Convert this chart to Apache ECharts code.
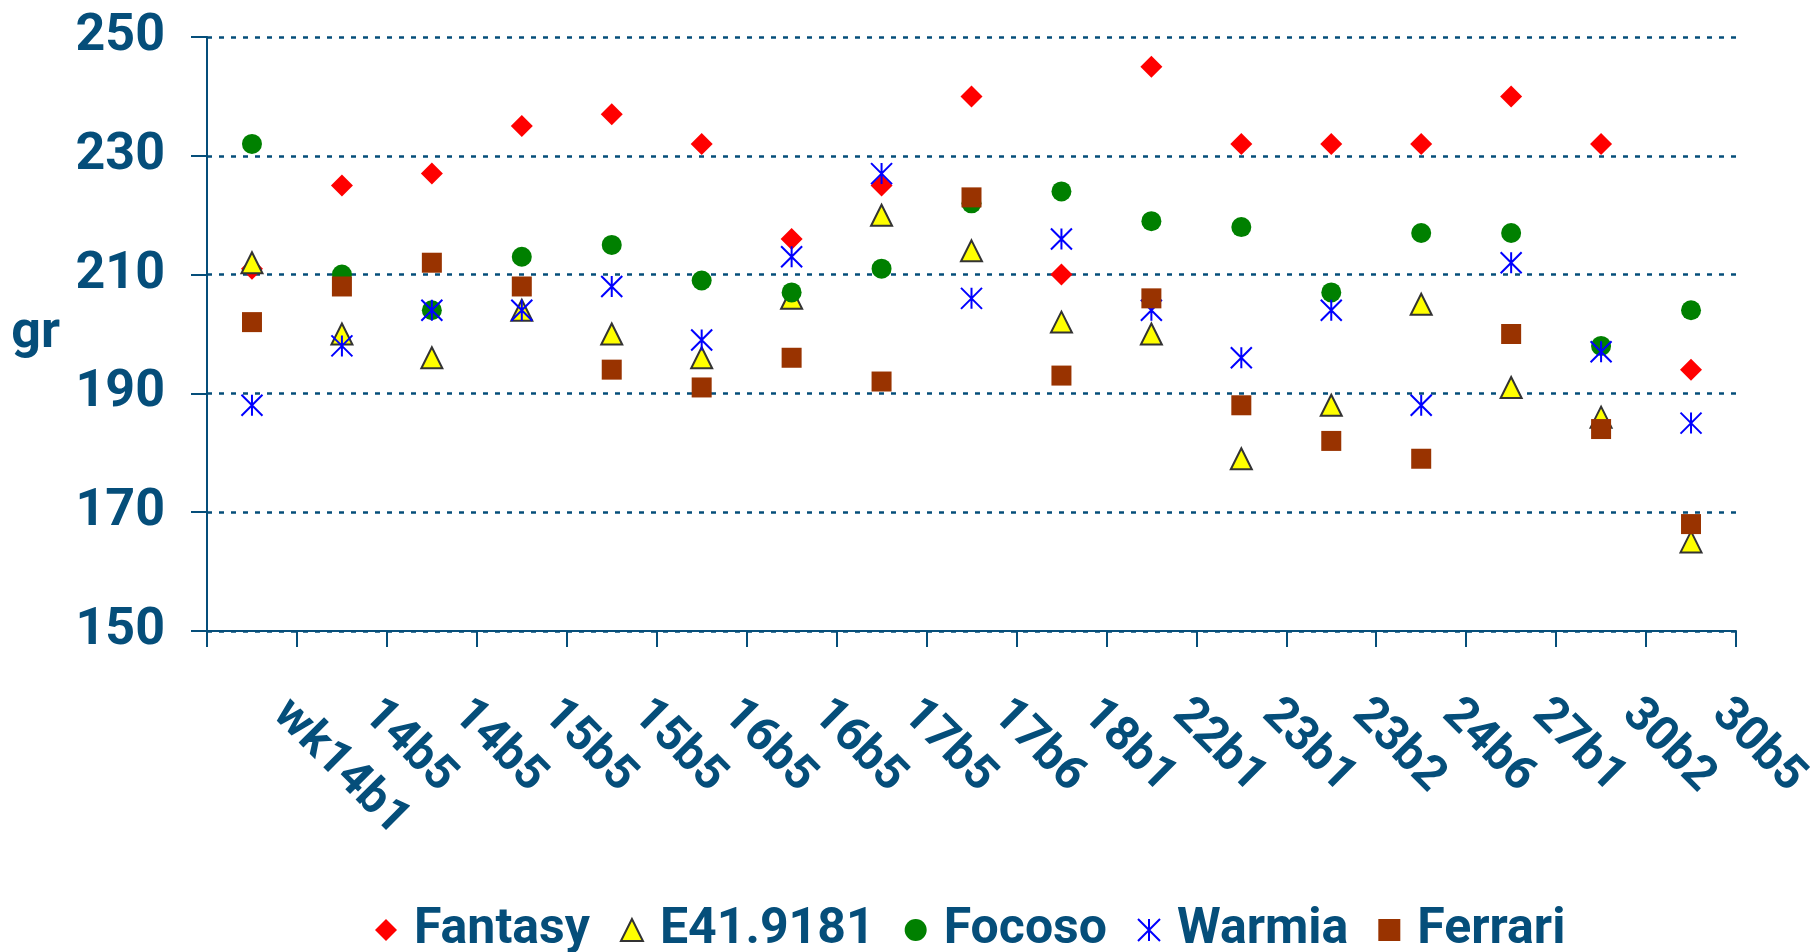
<!DOCTYPE html>
<html>
<head>
<meta charset="utf-8">
<title>gr</title>
<script src="https://cdn.jsdelivr.net/npm/echarts@6/dist/echarts.min.js"></script>
<style>
  html, body { margin: 0; padding: 0; background: #fff; }
  #chart { width: 1820px; height: 952px; }
</style>
</head>
<body>
<div id="chart"></div>
<script>
// categories (week + batch), duplicates are intentional
var categories = ['wk14b1', '14b5', '14b5', '15b5', '15b5', '16b5', '16b5', '17b5', '17b6',
  '18b1', '22b1', '23b1', '23b2', '24b6', '27b1', '30b2', '30b5'];

// weights in gr
var fantasy  = [211, 225, 227, 235, 237, 232, 216, 225, 240, 210, 245, 232, 232, 232, 240, 232, 194];
var e41      = [212, 200, 196, 204, 200, 196, 206, 220, 214, 202, 200, 179, 188, 205, 191, 186, 165];
var focoso   = [232, 210, 204, 213, 215, 209, 207, 211, 222, 224, 219, 218, 207, 217, 217, 198, 204];
var warmia   = [188, 198, 204, 204, 208, 199, 213, 227, 206, 216, 204, 196, 204, 188, 212, 197, 185];
var ferrari  = [202, 208, 212, 208, 194, 191, 196, 192, 223, 193, 206, 188, 182, 179, 200, 184, 168];

var yTicks = { min: 150, max: 250, step: 20 };

var navy = '#054e7a';
var font = 'Roboto';

var chart = echarts.init(document.getElementById('chart'));

function dots(name, data, symbol, size, style) {
  style.opacity = 1; // scatter defaults to 0.8
  return {
    name: name,
    type: 'scatter',
    data: data,
    symbol: symbol,
    symbolSize: size,
    itemStyle: style,
    animation: false
  };
}

chart.setOption({
  backgroundColor: '#fff',
  textStyle: { fontFamily: font },
  grid: {
    left: 207,
    right: 84,
    top: 37,
    bottom: 321
  },
  legend: {
    left: 370,
    top: 897,
    itemWidth: 22,
    itemHeight: 22,
    itemGap: 30,
    textStyle: {
      color: navy,
      fontFamily: font,
      fontWeight: 'bold',
      fontSize: 50,
      lineHeight: 56,
      padding: [0, 0, 0, 12]
    }
  },
  xAxis: {
    type: 'category',
    data: categories,
    boundaryGap: true,
    axisLine: { lineStyle: { color: navy, width: 2 } },
    axisTick: { show: true, inside: false, length: 16, lineStyle: { color: navy, width: 2 } },
    axisLabel: {
      interval: 0,
      rotate: -45,
      margin: 48,
      padding: [0, 0, 0, 40],
      color: navy,
      fontFamily: font,
      fontWeight: 'bold',
      fontSize: 48
    },
    splitLine: { show: false }
  },
  yAxis: {
    type: 'value',
    min: yTicks.min,
    max: yTicks.max,
    interval: yTicks.step,
    name: 'gr',
    nameLocation: 'middle',
    nameRotate: 0,
    nameGap: 147,
    nameTextStyle: {
      color: navy,
      fontFamily: font,
      fontWeight: 'bold',
      fontSize: 52
    },
    axisLine: { show: true, lineStyle: { color: navy, width: 2 } },
    axisTick: { show: true, inside: false, length: 16, lineStyle: { color: navy, width: 2 } },
    axisLabel: {
      margin: 42,
      color: navy,
      fontFamily: font,
      fontWeight: 'bold',
      fontSize: 52
    },
    splitLine: {
      show: true,
      lineStyle: { color: navy, width: 2.5, type: [5, 7] }
    }
  },
  series: [
    dots('Fantasy', fantasy, 'diamond', [22, 22], { color: '#ff0000' }),
    dots('E41.9181', e41, 'triangle', [21, 21], { color: '#ffff00', borderColor: '#333333', borderWidth: 2 }),
    dots('Focoso', focoso, 'circle', 20, { color: '#008000' }),
    dots('Warmia', warmia, 'path://M0,0L10,10M10,0L0,10M5,0L5,10', 21,
      { color: 'rgba(0,0,0,0)', borderColor: '#0000ff', borderWidth: 2 }),
    dots('Ferrari', ferrari, 'rect', 20, { color: '#993300' })
  ]
});
</script>
</body>
</html>
